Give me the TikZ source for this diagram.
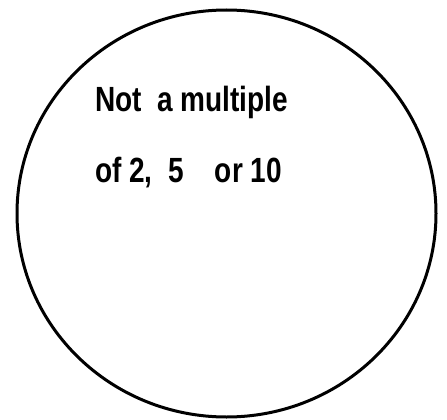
\documentclass[tikz,border=0pt]{standalone}
\usepackage{fontspec}
\setmainfont{Liberation Sans}[FakeStretch=0.8]
\begin{document}
\begin{tikzpicture}[x=1pt,y=-1pt,
  lbl/.style={anchor=base west,inner sep=0pt,font=\bfseries\fontsize{35}{40}\selectfont}]
\useasboundingbox (0,0) rectangle (447,420);
\draw[line width=3pt] (226.5,213.5) ellipse [x radius=209.5, y radius=203.5];
\node[lbl] (l1) at (95,111) {Not\ \ a multiple};
\node[lbl] (l2) at (95,182) {of 2,\ \ 5\ \ \ \ or 10};
\end{tikzpicture}
\end{document}
